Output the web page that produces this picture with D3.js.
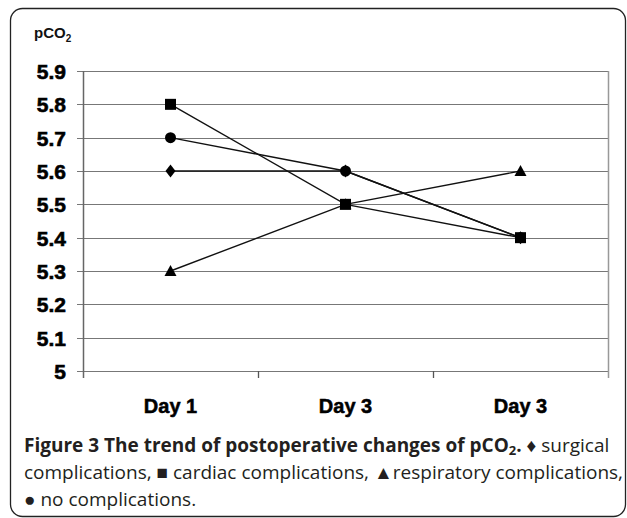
<!DOCTYPE html>
<html><head><meta charset="utf-8">
<script src="https://cdn.jsdelivr.net/npm/d3@7/dist/d3.min.js"></script>
<style>body{margin:0;background:#fff}</style>
</head><body>
<script>
const categories = ["Day 1", "Day 3", "Day 3 "];
const categoryLabels = ["Day 1", "Day 3", "Day 3"];
const yTicks = [5, 5.1, 5.2, 5.3, 5.4, 5.5, 5.6, 5.7, 5.8, 5.9];
const surgical = [5.6, 5.6, 5.4];
const cardiac = [5.8, 5.5, 5.4];
const respiratory = [5.3, 5.5, 5.6];
const noComplications = [5.7, 5.6, 5.4];

(function () {
const W = 627, H = 518;
const svg = d3.select("body").append("svg").attr("width", W).attr("height", H);

svg.append("rect").attr("x", 10.5).attr("y", 8.5).attr("width", 615).attr("height", 508)
  .attr("rx", 12).attr("fill", "none").attr("stroke", "#222").attr("stroke-width", 1.3);

const pL = 83, pR = 608, pT = 71, pB = 371;
const x = d3.scaleBand().domain(categories).range([pL, pR]);
const y = d3.scaleLinear().domain([5, 5.9]).range([pB, pT]);

svg.append("g").selectAll("line").data(yTicks).join("line")
  .attr("x1", pL - 6).attr("x2", pR)
  .attr("y1", d => Math.round(y(d)) + 0.5).attr("y2", d => Math.round(y(d)) + 0.5)
  .attr("stroke", "#777").attr("stroke-width", 1.2);
svg.append("line").attr("x1", pR + 0.5).attr("x2", pR + 0.5).attr("y1", pT).attr("y2", pB + 7)
  .attr("stroke", "#999").attr("stroke-width", 1.5);
svg.append("line").attr("x1", pL + 0.5).attr("x2", pL + 0.5).attr("y1", pT).attr("y2", pB + 7)
  .attr("stroke", "#666").attr("stroke-width", 1.5);
svg.append("g").selectAll("line").data(categories.slice(1)).join("line")
  .attr("x1", d => Math.round(x(d)) + 0.5).attr("x2", d => Math.round(x(d)) + 0.5)
  .attr("y1", pB).attr("y2", pB + 7).attr("stroke", "#555").attr("stroke-width", 1.3);

const af = "'Liberation Sans', Arial, sans-serif";
svg.append("g").selectAll("text").data(yTicks).join("text")
  .attr("x", 66).attr("y", d => y(d) + 8).attr("text-anchor", "end")
  .attr("font-family", af).attr("font-weight", "bold")
  .attr("stroke", "#000").attr("stroke-width", 0.6)
  .attr("font-size", 21).text(d => d === 5 ? "5" : d.toFixed(1));

svg.append("g").selectAll("text").data(categories).join("text")
  .attr("x", d => x(d) + x.bandwidth() / 2).attr("y", 413).attr("text-anchor", "middle")
  .attr("font-family", af).attr("font-weight", "bold")
  .attr("stroke", "#000").attr("stroke-width", 0.5)
  .attr("font-size", 20).text((d, i) => categoryLabels[i]);

const t = svg.append("text").attr("x", 34).attr("y", 38)
  .attr("font-family", af).attr("font-weight", "bold").attr("font-size", 15).attr("fill", "#111");
t.append("tspan").text("pCO");
t.append("tspan").attr("font-size", 10).attr("dy", 4).text("2");

const diamond = {draw(ctx, s) { const w = 5, h = 6.5; ctx.moveTo(0, -h); ctx.lineTo(w, 0); ctx.lineTo(0, h); ctx.lineTo(-w, 0); ctx.closePath(); }};
const square = {draw(ctx, s) { const h = 5.5; ctx.rect(-h, -h, 2 * h, 2 * h); }};
const tri = {draw(ctx, s) { ctx.moveTo(0, -6); ctx.lineTo(6, 5); ctx.lineTo(-6, 5); ctx.closePath(); }};
const circ = {draw(ctx, s) { ctx.moveTo(5.5, 0); ctx.arc(0, 0, 5.5, 0, 2 * Math.PI); }};

const series = [
  {v: surgical, sym: diamond},
  {v: cardiac, sym: square},
  {v: respiratory, sym: tri},
  {v: noComplications, sym: circ}
];
const line = d3.line().x((d, i) => x(categories[i]) + x.bandwidth() / 2).y(d => y(d));
series.forEach(s => {
  svg.append("path").attr("d", line(s.v)).attr("fill", "none").attr("stroke", "#111").attr("stroke-width", 1.4);
});
series.forEach(s => {
  svg.append("g").selectAll("path").data(s.v).join("path")
    .attr("transform", (d, i) => `translate(${x(categories[i]) + x.bandwidth() / 2},${y(d)})`)
    .attr("d", d3.symbol(s.sym, 100)).attr("fill", "#000");
});

const cf = "'Open Sans', sans-serif";
const c1 = svg.append("text").attr("x", 24).attr("y", 452).attr("font-family", cf).attr("font-size", 19).attr("fill", "#231f20");
c1.append("tspan").attr("font-weight", "bold").text("Figure 3 The trend of postoperative changes of pCO");
c1.append("tspan").attr("font-weight", "bold").attr("font-size", 13).attr("dy", 3).text("2");
c1.append("tspan").attr("font-weight", "bold").attr("dy", -3).text(".");
c1.append("tspan").text(" \u2666 surgical");
svg.append("text").attr("x", 24).attr("y", 479).attr("font-family", cf).attr("font-size", 19).attr("fill", "#231f20")
  .text("complications, \u25A0 cardiac complications, \u25B2respiratory complications,");
svg.append("text").attr("x", 24).attr("y", 506).attr("font-family", cf).attr("font-size", 19).attr("fill", "#231f20")
  .text("\u25CF no complications.");
})();
</script>
</body></html>
